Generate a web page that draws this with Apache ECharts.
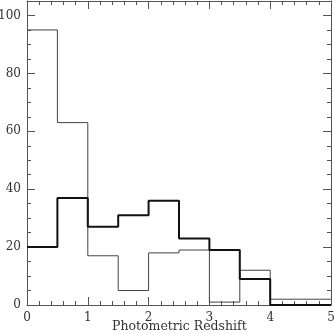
<!DOCTYPE html>
<html>
<head>
<meta charset="utf-8" />
<title></title>
<script src="https://cdn.jsdelivr.net/npm/echarts@6/dist/echarts.min.js"></script>
<style>
html,body{margin:0;padding:0;background:#fff;}
#main{width:334px;height:334px;}
</style>
</head>
<body>
<div id="main"></div>
<script>
// bin left edges (photometric redshift), bin width 0.5
var binEdges = [0, 0.5, 1, 1.5, 2, 2.5, 3, 3.5, 4, 4.5];
var binWidth = 0.5;
var thinCounts = [95, 63, 17, 5, 18, 19, 1, 12, 2, 2];
var thickCounts = [20, 37, 27, 31, 36, 23, 19, 9, 0, 0];
var yTicks = [0, 20, 40, 60, 80, 100];
var xTitle = 'Photometric Redshift';

function stepPoints(counts) {
	var pts = [];
	for (var i = 0; i < binEdges.length; i++) {
		pts.push([binEdges[i], counts[i]]);
	}
	pts.push([binEdges[binEdges.length - 1] + binWidth, counts[counts.length - 1]]);
	return pts;
}

var font = 'DejaVu Serif';
var lineCol = '#555';

function xAx(pos, show) {
	return {
		type: 'value', position: pos, min: 0, max: 5, interval: 1,
		axisLine: {show: true, onZero: false, lineStyle: {color: lineCol, width: 1}},
		axisTick: {show: true, inside: true, length: 8, lineStyle: {color: lineCol}},
		minorTick: {show: true, splitNumber: 5, length: 4, lineStyle: {color: lineCol}},
		axisLabel: {show: show, fontFamily: font, fontSize: 12, color: '#333', margin: 7},
		splitLine: {show: false}
	};
}
function yAx(pos, show) {
	return {
		type: 'value', position: pos, min: 0, max: 105, interval: 20,
		axisLine: {show: true, onZero: false, lineStyle: {color: lineCol, width: 1}},
		axisTick: {show: true, inside: true, length: 8, lineStyle: {color: lineCol}},
		minorTick: {show: true, splitNumber: 4, length: 4, lineStyle: {color: lineCol}},
		axisLabel: {
			show: show, fontFamily: font, fontSize: 12, color: '#333', margin: 6,
			showMaxLabel: false,
			formatter: function (v) { return yTicks.indexOf(v) >= 0 ? String(v) : ''; }
		},
		splitLine: {show: false}
	};
}

var chart = echarts.init(document.getElementById('main'));
chart.setOption({
	animation: false,
	grid: {left: 27, right: 3, top: 1, bottom: 29, outerBoundsMode: 'none'},
	xAxis: [xAx('bottom', true), xAx('top', false)],
	yAxis: [yAx('left', true), yAx('right', false)],
	graphic: [{
		type: 'text', left: 112, top: 320,
		style: {text: xTitle, fontFamily: font, fontSize: 12.5, fill: '#333'}
	}],
	series: [{
		type: 'line', step: 'end', symbol: 'none',
		data: stepPoints(thinCounts),
		lineStyle: {color: '#444', width: 1}
	}, {
		type: 'line', step: 'end', symbol: 'none',
		data: stepPoints(thickCounts),
		lineStyle: {color: '#111', width: 2}
	}]
});
</script>
</body>
</html>
